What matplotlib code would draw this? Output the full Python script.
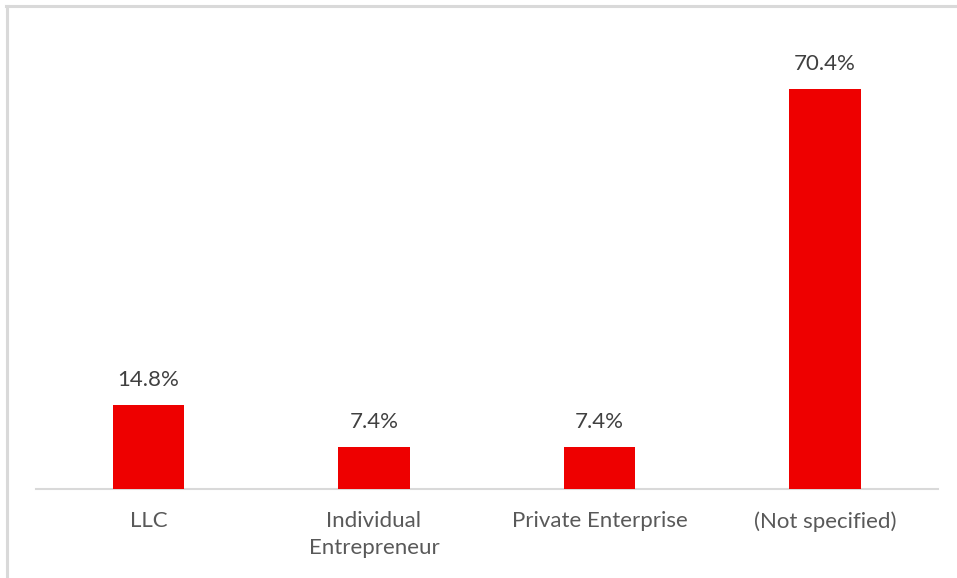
import matplotlib
matplotlib.use("Agg")
import matplotlib.pyplot as plt
from matplotlib.lines import Line2D

categories = ["LLC", "Individual\nEntrepreneur", "Private Enterprise", "(Not specified)"]
shares = [14.8, 7.4, 7.4, 70.4]

W, H = 957, 578
plt.rcParams["font.family"] = ["Lato", "DejaVu Sans"]

fig = plt.figure(figsize=(W / 100, H / 100), dpi=100)

# light gray chart-area frame (left and top edges)
frame_kw = dict(transform=fig.transFigure, color="#D9D9D9", linewidth=2.2)
fig.lines.append(Line2D([7 / W, 7 / W], [0, (H - 5.5) / H], **frame_kw))
fig.lines.append(Line2D([6 / W, 1], [(H - 5.5) / H, (H - 5.5) / H], **frame_kw))

left_px, right_px = 35.75, 937.75
base_px = 489
ymax = 80
px_per_unit = 400 / 70.4
top_px = base_px - ymax * px_per_unit
ax = fig.add_axes([left_px / W, (H - base_px) / H, (right_px - left_px) / W,
                   (base_px - top_px) / H])

x = range(len(categories))
bars = ax.bar(x, shares, width=0.315, color="#EE0000", zorder=3)
ax.set_xlim(-0.5, len(categories) - 0.5)
ax.set_ylim(0, ymax)

for xi, v in zip(x, shares):
    ax.annotate(f"{v:.1f}%", (xi, v), xytext=(0, 11), textcoords="offset points",
                ha="center", va="bottom", fontsize=16, color="#404040")

for s in ["top", "right", "left"]:
    ax.spines[s].set_visible(False)
ax.spines["bottom"].set_color("#D9D9D9")
ax.spines["bottom"].set_linewidth(1.5)
ax.set_yticks([])
ax.set_xticks(list(x))
ax.set_xticklabels(categories, fontsize=16, color="#595959", linespacing=1.45)
ax.tick_params(axis="x", length=0, pad=16)

fig.savefig("out.png", dpi=100)
